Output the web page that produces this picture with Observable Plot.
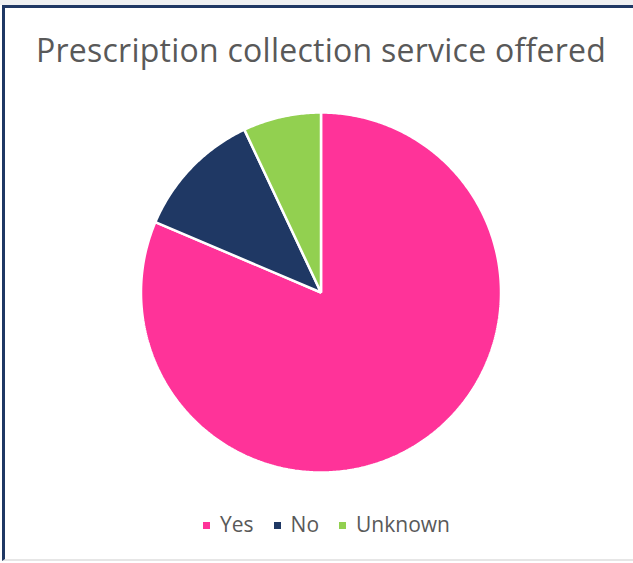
<!DOCTYPE html>
<html>
<head>
<meta charset="utf-8">
<script src="https://cdn.jsdelivr.net/npm/d3@7"></script>
<script src="https://cdn.jsdelivr.net/npm/@observablehq/plot@0.6"></script>
<style>
  html, body { margin: 0; padding: 0; background: #fff; }
  #frame { position: relative; width: 633px; height: 563px; overflow: hidden; background: #fff; font-family: "Open Sans", sans-serif; }
  #topstrip { position: absolute; left: 0; top: 0; width: 633px; height: 5px; background: #eef0f2; }
  #border { position: absolute; left: 2px; top: 5px; width: 640px; height: 556px; border-left: 3px solid #1f3864; border-top: 3px solid #1f3864; border-bottom: 2px solid #e6e6e6; box-sizing: border-box; }
  #title { position: absolute; left: 0; top: 28px; width: 642px; text-align: center; font-size: 32px; line-height: normal; color: #595959; letter-spacing: 0.25px; white-space: nowrap; }
  #chart { position: absolute; left: 0; top: 92px; }
  #legend { position: absolute; left: 0; top: 510px; width: 653px; display: flex; justify-content: center; font-size: 21px; line-height: normal; color: #595959; }
  .item { display: flex; align-items: center; margin: 0 10px; }
  .sw { width: 7px; height: 7px; margin-right: 10px; margin-top: 2px; }
</style>
</head>
<body>
<div id="frame">
  <div id="topstrip"></div>
  <div id="border"></div>
  <div id="title">Prescription collection service offered</div>
  <div id="chart"></div>
  <div id="legend"></div>
</div>
<script>
const categories = ["Yes", "No", "Unknown"];
const shares = [81.4, 11.6, 7.0];
const colors = ["#ff3399", "#1f3864", "#92d050"];

const pie = d3.pie().sort(null).value(d => d.value)(categories.map((c, i) => ({key: c, value: shares[i]})));
const features = pie.map(p => {
  const ring = [[0, 0]];
  const n = Math.max(4, Math.ceil((p.endAngle - p.startAngle) / 0.01));
  for (let k = 0; k <= n; k++) {
    const a = p.startAngle + (p.endAngle - p.startAngle) * k / n;
    ring.push([Math.sin(a), Math.cos(a)]);
  }
  ring.push([0, 0]);
  return {type: "Feature", properties: {key: p.data.key}, geometry: {type: "Polygon", coordinates: [ring]}};
});

const plot = Plot.plot({
  width: 633,
  height: 400,
  marginLeft: 8,
  marginRight: 0,
  marginTop: 20,
  marginBottom: 20,
  projection: {
    type: "reflect-y",
    domain: {type: "Polygon", coordinates: [[[-1, -1], [1, -1], [1, 1], [-1, 1], [-1, -1]]]}
  },
  color: {domain: categories, range: colors},
  marks: [
    Plot.geo(features, {fill: d => d.properties.key, stroke: "white", strokeWidth: 2.5, strokeLinejoin: "miter"})
  ]
});
plot.style.background = "transparent";
document.getElementById("chart").append(plot);

const color = plot.scale("color");
const legend = document.getElementById("legend");
categories.forEach(c => {
  const item = document.createElement("div");
  item.className = "item";
  const sw = document.createElement("span");
  sw.className = "sw";
  sw.style.background = colors[color.domain.indexOf(c)];
  const t = document.createElement("span");
  t.textContent = c;
  item.append(sw, t);
  legend.append(item);
});
</script>
</body>
</html>
